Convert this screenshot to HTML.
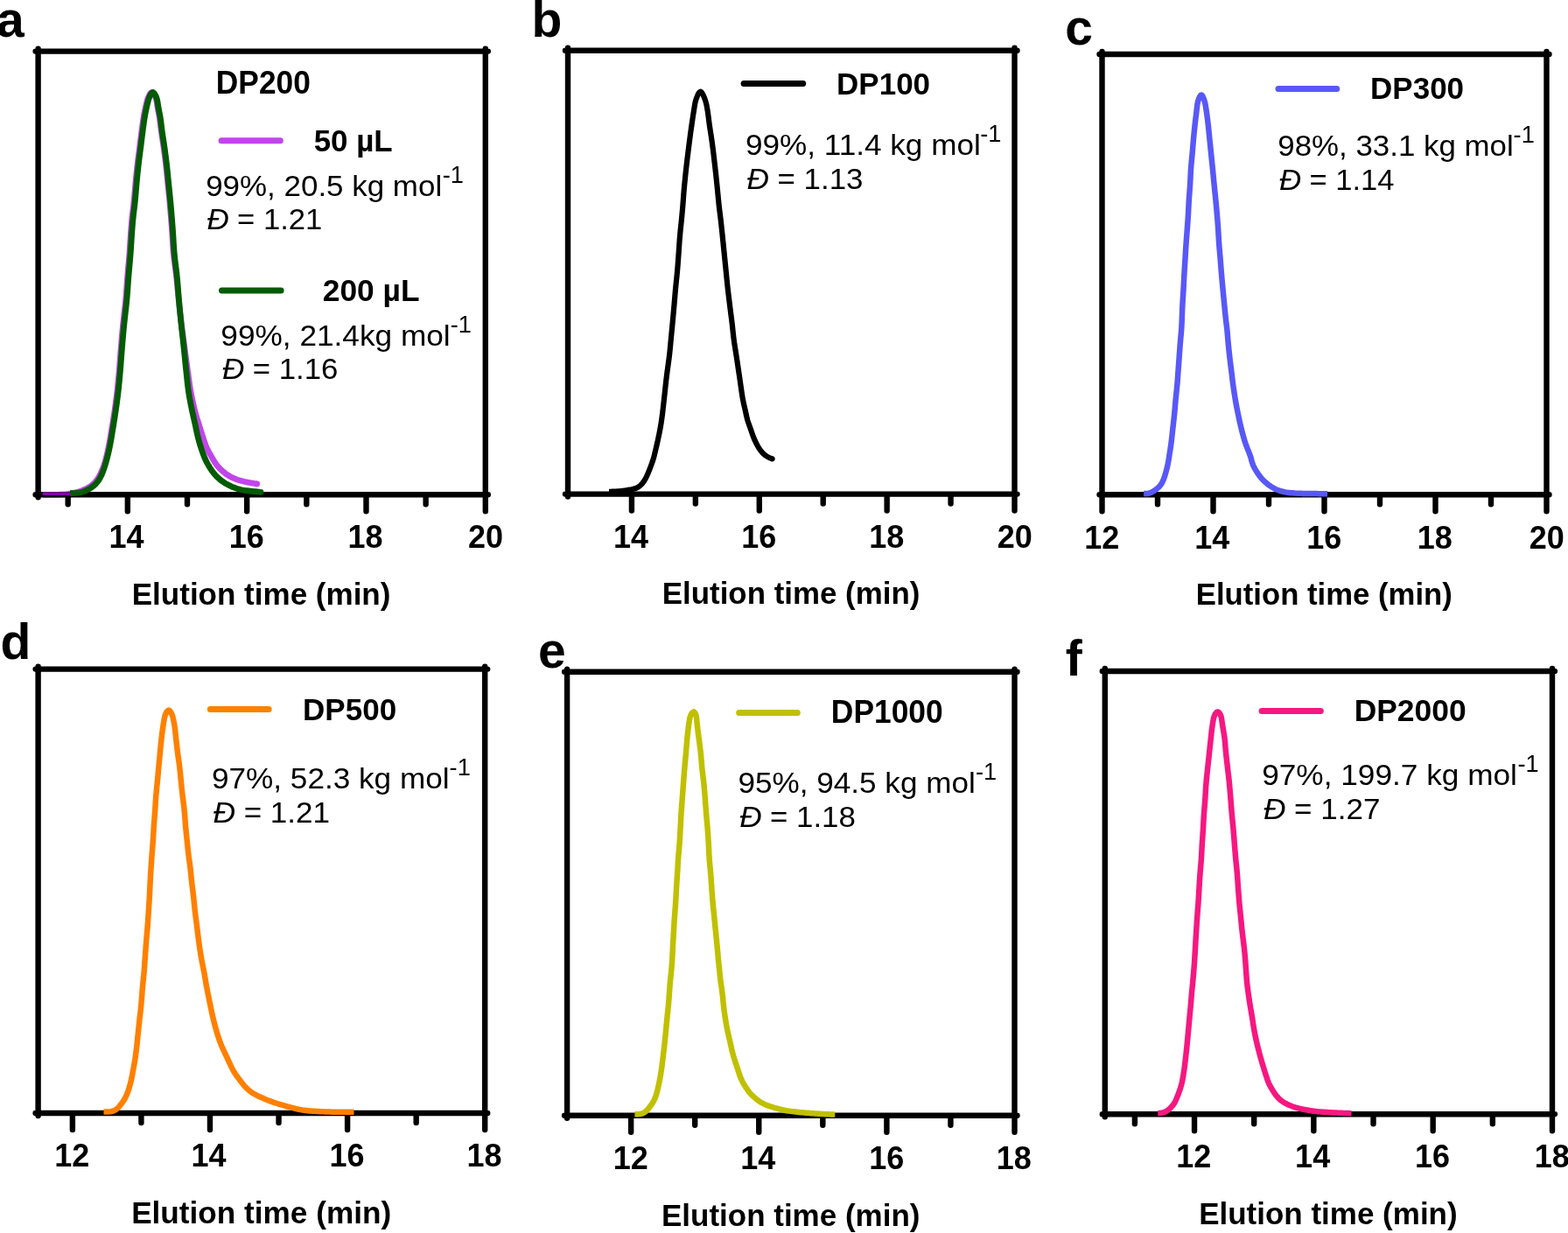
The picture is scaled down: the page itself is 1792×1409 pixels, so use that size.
<!DOCTYPE html>
<html><head><meta charset="utf-8"><title>GPC traces</title>
<style>html,body{margin:0;padding:0;background:#fff;overflow:hidden}svg{display:block}</style>
</head><body>
<svg xmlns="http://www.w3.org/2000/svg" width="1792" height="1409" viewBox="0 0 1792 1409">
<rect width="100%" height="100%" fill="#fff"/>
<g fill="none" stroke-linecap="butt" stroke-linejoin="round">
<path id="curve_M" d="M48.7,565.4 L50.7,565.39 52.7,565.38 54.7,565.37 56.7,565.37 58.71,565.36 60.71,565.35 62.71,565.34 64.71,565.31 66.71,565.28 68.71,565.22 70.71,565.14 72.71,565.03 74.7,564.88 76.69,564.68 78.67,564.41 80.64,564.07 82.6,563.68 84.55,563.24 86.5,562.77 88.43,562.28 90.36,561.74 92.26,561.13 94.13,560.44 95.97,559.66 97.78,558.81 99.56,557.91 101.31,556.95 103.01,555.9 104.63,554.75 106.18,553.5 107.63,552.14 109,550.69 110.27,549.15 111.44,547.54 112.51,545.86 113.49,544.12 114.41,542.35 115.27,540.55 116.09,538.72 116.87,536.88 117.62,535.02 118.32,533.15 118.98,531.27 119.6,529.36 120.17,527.45 120.71,525.52 121.21,523.58 121.69,521.64 122.16,519.7 122.62,517.75 123.06,515.8 123.5,513.84 123.92,511.89 124.32,509.93 124.71,507.96 125.09,506 125.45,504.03 125.79,502.06 126.13,500.09 126.45,498.11 126.77,496.14 127.09,494.16 127.41,492.18 127.73,490.21 128.06,488.24 128.38,486.26 128.71,484.29 129.03,482.31 129.35,480.34 129.67,478.36 129.98,476.38 130.28,474.41 130.58,472.43 130.87,470.45 131.16,468.47 131.44,466.49 131.72,464.5 132,462.52 132.27,460.54 132.53,458.56 132.8,456.57 133.05,454.59 133.3,452.6 133.54,450.61 133.78,448.63 134,446.64 134.22,444.65 134.44,442.66 134.64,440.67 134.84,438.68 135.04,436.69 135.23,434.7 135.42,432.7 135.6,430.71 135.78,428.72 135.96,426.72 136.13,424.73 136.3,422.74 136.47,420.74 136.63,418.75 136.79,416.75 136.94,414.76 137.09,412.76 137.24,410.77 137.39,408.77 137.54,406.78 137.69,404.78 137.84,402.78 138,400.79 138.16,398.79 138.32,396.8 138.49,394.81 138.65,392.81 138.82,390.82 138.99,388.82 139.16,386.83 139.33,384.84 139.5,382.84 139.68,380.85 139.86,378.86 140.04,376.86 140.23,374.87 140.42,372.88 140.62,370.89 140.82,368.9 141.04,366.91 141.25,364.92 141.48,362.93 141.7,360.94 141.93,358.95 142.16,356.96 142.39,354.98 142.61,352.99 142.83,351 143.05,349.01 143.26,347.02 143.47,345.03 143.66,343.04 143.85,341.04 144.02,339.05 144.19,337.06 144.34,335.06 144.49,333.07 144.64,331.07 144.77,329.07 144.91,327.08 145.05,325.08 145.19,323.09 145.33,321.09 145.48,319.09 145.63,317.1 145.79,315.1 145.95,313.11 146.12,311.11 146.3,309.12 146.47,307.13 146.65,305.13 146.83,303.14 147.01,301.15 147.18,299.15 147.36,297.16 147.53,295.17 147.69,293.17 147.85,291.18 148,289.18 148.14,287.19 148.28,285.19 148.41,283.19 148.54,281.2 148.67,279.2 148.8,277.2 148.92,275.21 149.05,273.21 149.18,271.21 149.31,269.21 149.45,267.22 149.59,265.22 149.74,263.23 149.89,261.23 150.04,259.24 150.2,257.24 150.36,255.25 150.54,253.25 150.72,251.26 150.92,249.27 151.13,247.28 151.35,245.29 151.58,243.3 151.81,241.31 152.05,239.33 152.29,237.34 152.53,235.35 152.76,233.37 152.98,231.38 153.19,229.39 153.38,227.39 153.56,225.4 153.74,223.41 153.91,221.41 154.07,219.42 154.23,217.43 154.39,215.43 154.56,213.44 154.73,211.44 154.91,209.45 155.09,207.46 155.28,205.46 155.47,203.47 155.66,201.48 155.86,199.49 156.06,197.5 156.27,195.51 156.48,193.52 156.69,191.53 156.92,189.54 157.15,187.55 157.38,185.56 157.63,183.58 157.88,181.59 158.13,179.61 158.39,177.62 158.65,175.64 158.9,173.65 159.16,171.67 159.41,169.68 159.66,167.7 159.91,165.71 160.16,163.73 160.4,161.74 160.65,159.76 160.9,157.77 161.15,155.78 161.4,153.8 161.65,151.81 161.91,149.83 162.17,147.85 162.43,145.86 162.69,143.88 162.95,141.89 163.23,139.91 163.51,137.93 163.81,135.95 164.13,133.98 164.46,132 164.82,130.04 165.2,128.07 165.61,126.11 166.03,124.15 166.45,122.2 166.89,120.25 167.33,118.3 167.81,116.35 168.34,114.42 168.96,112.53 169.7,110.67 170.56,108.87 171.55,107.13 172.84,105.7 173.71,105.46 174.54,105.89 175.81,107.39 176.83,109.11 177.68,110.91 178.34,112.79 178.82,114.73 179.19,116.69 179.51,118.67 179.81,120.65 180.14,122.62 180.49,124.59 180.87,126.55 181.26,128.52 181.64,130.48 182,132.45 182.32,134.42 182.62,136.4 182.89,138.38 183.14,140.37 183.38,142.36 183.61,144.34 183.85,146.33 184.11,148.31 184.37,150.3 184.65,152.28 184.94,154.26 185.24,156.24 185.55,158.21 185.85,160.19 186.16,162.17 186.46,164.15 186.76,166.13 187.05,168.11 187.33,170.09 187.6,172.07 187.87,174.05 188.14,176.04 188.39,178.02 188.65,180.01 188.89,181.99 189.14,183.98 189.37,185.97 189.6,187.95 189.83,189.94 190.05,191.93 190.26,193.92 190.47,195.91 190.67,197.9 190.86,199.89 191.06,201.89 191.25,203.88 191.44,205.87 191.64,207.86 191.84,209.85 192.04,211.84 192.24,213.83 192.45,215.83 192.65,217.82 192.85,219.81 193.05,221.8 193.25,223.79 193.45,225.78 193.64,227.77 193.83,229.76 194.01,231.76 194.19,233.75 194.37,235.74 194.54,237.74 194.71,239.73 194.88,241.73 195.04,243.72 195.21,245.71 195.37,247.71 195.53,249.7 195.69,251.7 195.85,253.69 196,255.69 196.16,257.68 196.31,259.68 196.46,261.68 196.6,263.67 196.74,265.67 196.87,267.66 196.99,269.66 197.11,271.66 197.23,273.66 197.34,275.65 197.46,277.65 197.58,279.65 197.71,281.65 197.85,283.64 197.99,285.64 198.15,287.63 198.33,289.63 198.52,291.62 198.74,293.61 198.97,295.6 199.21,297.58 199.47,299.57 199.73,301.55 200,303.53 200.27,305.52 200.54,307.5 200.81,309.48 201.07,311.47 201.31,313.45 201.55,315.44 201.78,317.43 201.99,319.42 202.19,321.41 202.39,323.4 202.58,325.39 202.77,327.38 202.95,329.38 203.14,331.37 203.32,333.36 203.51,335.35 203.7,337.35 203.89,339.34 204.09,341.33 204.29,343.32 204.5,345.31 204.7,347.3 204.91,349.29 205.12,351.28 205.33,353.27 205.55,355.26 205.76,357.25 205.99,359.24 206.21,361.23 206.44,363.22 206.67,365.2 206.91,367.19 207.16,369.18 207.41,371.16 207.66,373.15 207.92,375.13 208.18,377.11 208.45,379.1 208.71,381.08 208.98,383.06 209.25,385.05 209.53,387.03 209.8,389.01 210.07,391 210.34,392.98 210.61,394.96 210.88,396.94 211.15,398.93 211.42,400.91 211.68,402.89 211.94,404.88 212.21,406.86 212.47,408.84 212.73,410.83 213,412.81 213.26,414.8 213.53,416.78 213.8,418.76 214.07,420.74 214.34,422.73 214.62,424.71 214.89,426.69 215.16,428.68 215.42,430.66 215.69,432.64 215.96,434.62 216.24,436.61 216.52,438.59 216.81,440.57 217.12,442.54 217.44,444.52 217.77,446.49 218.12,448.46 218.49,450.43 218.87,452.39 219.27,454.36 219.68,456.31 220.09,458.27 220.52,460.23 220.96,462.18 221.41,464.13 221.87,466.08 222.34,468.02 222.83,469.96 223.34,471.9 223.86,473.83 224.42,475.75 225,477.66 225.6,479.57 226.22,481.48 226.82,483.38 227.42,485.29 228.02,487.2 228.6,489.12 229.19,491.03 229.78,492.94 230.37,494.85 230.98,496.76 231.59,498.67 232.2,500.57 232.82,502.47 233.45,504.37 234.09,506.27 234.77,508.15 235.49,510.01 236.27,511.85 237.12,513.66 238.05,515.43 239.02,517.18 240.03,518.9 241.05,520.63 242.04,522.36 243.02,524.1 244.01,525.84 245.04,527.55 246.14,529.22 247.32,530.83 248.57,532.39 249.88,533.89 251.25,535.35 252.66,536.76 254.12,538.13 255.62,539.45 257.17,540.71 258.78,541.9 260.44,543 262.15,544.03 263.9,544.98 265.7,545.87 267.52,546.68 269.37,547.43 271.25,548.11 273.15,548.73 275.07,549.3 277,549.81 278.94,550.29 280.9,550.72 282.86,551.12 284.82,551.5 286.79,551.85 288.76,552.19 290.74,552.51 292.71,552.84 293.7,553" stroke="#C146E9" stroke-width="6.8"/>
</g>
<g fill="none" stroke="#000" stroke-width="6.4" stroke-linecap="round" stroke-linejoin="round">
<path d="M40.6,58.6 L557.8,58.6 M40.6,565.2 L557.8,565.2 M43.6,55.6 L43.6,568.2 M554.8,55.6 L554.8,568.2 M77.68,565.2 L77.68,576.2 M145.84,565.2 L145.84,584.2 M214,565.2 L214,576.2 M282.16,565.2 L282.16,584.2 M350.32,565.2 L350.32,576.2 M418.48,565.2 L418.48,584.2 M486.64,565.2 L486.64,576.2 M554.8,565.2 L554.8,584.2"/>
<path d="M646,57.8 L1162.5,57.8 M646,564.6 L1162.5,564.6 M649,54.8 L649,567.6 M1159.5,54.8 L1159.5,567.6 M721.93,564.6 L721.93,583.6 M794.86,564.6 L794.86,575.6 M867.79,564.6 L867.79,583.6 M940.71,564.6 L940.71,575.6 M1013.64,564.6 L1013.64,583.6 M1086.57,564.6 L1086.57,575.6 M1159.5,564.6 L1159.5,583.6"/>
<path d="M1256.5,62 L1770.5,62 M1256.5,565.3 L1770.5,565.3 M1259.5,59 L1259.5,568.3 M1767.5,59 L1767.5,568.3 M1259.5,565.3 L1259.5,584.3 M1323,565.3 L1323,576.3 M1386.5,565.3 L1386.5,584.3 M1450,565.3 L1450,576.3 M1513.5,565.3 L1513.5,584.3 M1577,565.3 L1577,576.3 M1640.5,565.3 L1640.5,584.3 M1704,565.3 L1704,576.3 M1767.5,565.3 L1767.5,584.3"/>
<path d="M40.6,764.6 L557.2,764.6 M40.6,1272 L557.2,1272 M43.6,761.6 L43.6,1275 M554.2,761.6 L554.2,1275 M82.88,1272 L82.88,1291 M161.43,1272 L161.43,1283 M239.98,1272 L239.98,1291 M318.54,1272 L318.54,1283 M397.09,1272 L397.09,1291 M475.65,1272 L475.65,1283 M554.2,1272 L554.2,1291"/>
<path d="M645.1,767.7 L1162.5,767.7 M645.1,1274.8 L1162.5,1274.8 M648.1,764.7 L648.1,1277.8 M1159.5,764.7 L1159.5,1277.8 M721.16,1274.8 L721.16,1293.8 M794.21,1274.8 L794.21,1285.8 M867.27,1274.8 L867.27,1293.8 M940.33,1274.8 L940.33,1285.8 M1013.39,1274.8 L1013.39,1293.8 M1086.44,1274.8 L1086.44,1285.8 M1159.5,1274.8 L1159.5,1293.8"/>
<path d="M1259.8,767 L1777,767 M1259.8,1273.2 L1777,1273.2 M1262.8,764 L1262.8,1276.2 M1774,764 L1774,1276.2 M1296.88,1273.2 L1296.88,1284.2 M1365.04,1273.2 L1365.04,1292.2 M1433.2,1273.2 L1433.2,1284.2 M1501.36,1273.2 L1501.36,1292.2 M1569.52,1273.2 L1569.52,1284.2 M1637.68,1273.2 L1637.68,1292.2 M1705.84,1273.2 L1705.84,1284.2 M1774,1273.2 L1774,1292.2"/>
</g>
<path d="M48.6,564.1 L80.5,564.1" stroke="#8204A8" stroke-width="3.7" fill="none"/>
<g fill="none" stroke-linecap="butt" stroke-linejoin="round">
<path id="curve_G" d="M80,563.7 L82,563.65 84,563.59 85.99,563.48 87.98,563.32 89.96,563.07 91.92,562.72 93.85,562.24 95.74,561.62 97.59,560.88 99.39,560.03 101.17,559.11 102.9,558.12 104.57,557.04 106.17,555.86 107.69,554.57 109.13,553.19 110.47,551.73 111.73,550.18 112.89,548.56 113.94,546.87 114.9,545.12 115.77,543.33 116.58,541.5 117.32,539.65 118.03,537.77 118.7,535.89 119.34,534 119.96,532.09 120.55,530.18 121.12,528.27 121.66,526.34 122.17,524.41 122.67,522.47 123.15,520.53 123.62,518.59 124.07,516.64 124.51,514.69 124.94,512.73 125.35,510.77 125.74,508.81 126.13,506.85 126.49,504.88 126.85,502.92 127.18,500.94 127.51,498.97 127.83,497 128.15,495.02 128.47,493.05 128.79,491.07 129.11,489.1 129.44,487.13 129.77,485.15 130.09,483.18 130.41,481.2 130.73,479.23 131.04,477.25 131.35,475.28 131.65,473.3 131.94,471.32 132.23,469.34 132.52,467.36 132.8,465.38 133.08,463.4 133.35,461.42 133.62,459.44 133.88,457.45 134.14,455.47 134.39,453.49 134.63,451.5 134.87,449.51 135.1,447.53 135.33,445.54 135.54,443.55 135.75,441.56 135.96,439.57 136.15,437.58 136.35,435.59 136.53,433.6 136.72,431.61 136.9,429.62 137.08,427.62 137.25,425.63 137.43,423.64 137.59,421.65 137.76,419.65 137.92,417.66 138.07,415.66 138.22,413.67 138.37,411.67 138.52,409.68 138.67,407.68 138.82,405.69 138.97,403.7 139.13,401.7 139.29,399.71 139.45,397.71 139.61,395.72 139.78,393.73 139.94,391.73 140.11,389.74 140.28,387.75 140.45,385.75 140.62,383.76 140.8,381.77 140.97,379.78 141.16,377.78 141.34,375.79 141.53,373.8 141.73,371.81 141.93,369.82 142.14,367.83 142.35,365.84 142.57,363.85 142.8,361.87 143.02,359.88 143.25,357.89 143.48,355.91 143.71,353.92 143.93,351.93 144.15,349.94 144.37,347.95 144.57,345.96 144.77,343.97 144.96,341.98 145.14,339.99 145.31,338 145.47,336 145.62,334.01 145.77,332.01 145.91,330.02 146.05,328.02 146.18,326.03 146.32,324.03 146.46,322.04 146.61,320.04 146.76,318.05 146.91,316.05 147.07,314.06 147.24,312.07 147.41,310.07 147.59,308.08 147.77,306.09 147.94,304.1 148.12,302.1 148.3,300.11 148.47,298.12 148.65,296.13 148.81,294.13 148.97,292.14 149.13,290.14 149.27,288.15 149.41,286.15 149.55,284.16 149.68,282.16 149.81,280.17 149.94,278.17 150.06,276.17 150.19,274.18 150.32,272.18 150.45,270.19 150.58,268.19 150.72,266.19 150.86,264.2 151.01,262.2 151.16,260.21 151.32,258.22 151.48,256.22 151.65,254.23 151.83,252.24 152.02,250.25 152.22,248.26 152.44,246.27 152.66,244.28 152.9,242.29 153.13,240.31 153.37,238.32 153.61,236.34 153.85,234.35 154.07,232.36 154.28,230.37 154.49,228.38 154.67,226.39 154.85,224.4 155.02,222.41 155.19,220.41 155.35,218.42 155.51,216.43 155.68,214.43 155.85,212.44 156.02,210.45 156.2,208.45 156.39,206.46 156.57,204.47 156.77,202.48 156.96,200.49 157.16,198.5 157.36,196.51 157.57,194.52 157.78,192.53 158,190.54 158.23,188.56 158.46,186.57 158.7,184.58 158.95,182.6 159.2,180.61 159.46,178.63 159.72,176.65 159.97,174.66 160.23,172.68 160.48,170.7 160.73,168.71 160.98,166.73 161.23,164.74 161.48,162.76 161.72,160.77 161.97,158.79 162.22,156.8 162.47,154.82 162.72,152.83 162.98,150.85 163.24,148.87 163.49,146.88 163.75,144.9 164.02,142.92 164.28,140.93 164.56,138.95 164.85,136.97 165.16,135 165.49,133.02 165.83,131.05 166.2,129.09 166.6,127.13 167.01,125.17 167.43,123.22 167.87,121.26 168.31,119.31 168.77,117.37 169.27,115.43 169.83,113.51 170.5,111.63 171.28,109.79 172.16,108 173.22,106.32 174.77,105.48 176.24,106.67 177.33,108.34 178.24,110.12 178.98,111.97 179.53,113.89 179.94,115.84 180.27,117.81 180.57,119.79 180.89,121.76 181.24,123.73 181.6,125.7 181.99,127.66 182.38,129.62 182.74,131.59 183.09,133.56 183.39,135.53 183.67,137.51 183.93,139.5 184.17,141.48 184.41,143.47 184.65,145.46 184.89,147.44 185.15,149.42 185.43,151.41 185.71,153.38 186.01,155.36 186.31,157.34 186.62,159.32 186.93,161.29 187.23,163.27 187.53,165.25 187.82,167.23 188.11,169.21 188.38,171.19 188.65,173.17 188.92,175.15 189.18,177.14 189.43,179.12 189.68,181.1 189.93,183.09 190.17,185.08 190.4,187.06 190.63,189.05 190.85,191.04 191.07,193.03 191.27,195.01 191.48,197 191.67,199 191.87,200.99 192.06,202.98 192.26,204.97 192.45,206.96 192.65,208.95 192.85,210.94 193.05,212.93 193.25,214.92 193.46,216.91 193.66,218.9 193.86,220.89 194.06,222.88 194.26,224.87 194.45,226.86 194.64,228.85 194.83,230.84 195.01,232.84 195.19,234.83 195.36,236.82 195.53,238.81 195.7,240.81 195.87,242.8 196.03,244.79 196.19,246.79 196.36,248.78 196.52,250.77 196.68,252.77 196.83,254.76 196.99,256.76 197.14,258.75 197.29,260.75 197.43,262.74 197.57,264.74 197.71,266.73 197.84,268.73 197.96,270.72 198.08,272.72 198.2,274.72 198.32,276.71 198.44,278.71 198.56,280.71 198.7,282.7 198.84,284.7 198.99,286.69 199.15,288.69 199.33,290.68 199.52,292.67 199.73,294.66 199.95,296.65 200.19,298.63 200.43,300.62 200.68,302.6 200.93,304.59 201.18,306.57 201.43,308.56 201.67,310.54 201.9,312.53 202.12,314.52 202.32,316.51 202.52,318.5 202.7,320.49 202.87,322.48 203.04,324.48 203.2,326.47 203.35,328.46 203.51,330.46 203.66,332.45 203.81,334.45 203.97,336.44 204.13,338.44 204.3,340.43 204.47,342.42 204.64,344.41 204.82,346.41 205,348.4 205.18,350.39 205.37,352.38 205.55,354.37 205.74,356.37 205.93,358.36 206.12,360.35 206.32,362.34 206.51,364.33 206.71,366.32 206.92,368.31 207.12,370.3 207.33,372.29 207.54,374.28 207.76,376.27 207.97,378.25 208.19,380.24 208.41,382.23 208.63,384.22 208.85,386.21 209.07,388.2 209.29,390.18 209.51,392.17 209.73,394.16 209.94,396.15 210.15,398.14 210.36,400.13 210.57,402.12 210.77,404.11 210.98,406.1 211.18,408.09 211.38,410.08 211.57,412.07 211.77,414.06 211.97,416.05 212.18,418.04 212.38,420.03 212.59,422.02 212.8,424.01 213.01,426 213.21,427.99 213.42,429.97 213.62,431.96 213.83,433.95 214.04,435.94 214.26,437.93 214.48,439.92 214.72,441.91 214.97,443.89 215.24,445.87 215.53,447.85 215.83,449.83 216.15,451.8 216.49,453.77 216.84,455.74 217.2,457.71 217.58,459.67 217.96,461.64 218.35,463.6 218.75,465.56 219.15,467.52 219.56,469.48 219.98,471.43 220.4,473.39 220.83,475.34 221.28,477.29 221.74,479.24 222.19,481.19 222.64,483.14 223.07,485.09 223.48,487.04 223.89,489 224.29,490.96 224.69,492.92 225.11,494.88 225.56,496.83 226.02,498.77 226.51,500.71 227.02,502.64 227.56,504.57 228.11,506.49 228.68,508.41 229.28,510.32 229.89,512.22 230.53,514.12 231.17,516.01 231.84,517.9 232.54,519.77 233.26,521.64 234.03,523.48 234.85,525.3 235.72,527.1 236.64,528.88 237.6,530.63 238.6,532.36 239.64,534.07 240.72,535.75 241.84,537.41 243,539.04 244.21,540.62 245.48,542.17 246.81,543.65 248.2,545.08 249.66,546.44 251.18,547.73 252.75,548.97 254.37,550.15 256.02,551.27 257.71,552.34 259.43,553.35 261.19,554.3 262.97,555.19 264.79,556.02 266.64,556.79 268.5,557.49 270.39,558.15 272.3,558.74 274.23,559.27 276.17,559.74 278.13,560.13 280.1,560.45 282.08,560.71 284.07,560.94 286.05,561.15 288.04,561.35 290.03,561.55 292.03,561.74 294.02,561.93 296.01,562.11 298,562.3" stroke="#035B03" stroke-width="6.8"/>
<path id="curve_K" d="M696,561.8 L698,561.75 700,561.7 702,561.64 704,561.55 706,561.42 707.99,561.26 709.98,561.05 711.97,560.8 713.95,560.52 715.93,560.21 717.9,559.89 719.88,559.56 721.85,559.21 723.8,558.8 725.71,558.28 727.56,557.58 729.29,556.67 730.91,555.55 732.39,554.24 733.75,552.79 735,551.25 736.14,549.61 737.18,547.91 738.14,546.16 739.02,544.37 739.86,542.55 740.65,540.71 741.41,538.86 742.16,537 742.89,535.14 743.6,533.27 744.3,531.4 744.98,529.51 745.63,527.62 746.25,525.72 746.83,523.8 747.38,521.88 747.88,519.94 748.36,518 748.82,516.05 749.28,514.1 749.74,512.15 750.2,510.2 750.65,508.26 751.1,506.31 751.55,504.35 751.97,502.4 752.39,500.44 752.8,498.48 753.2,496.52 753.59,494.56 753.97,492.59 754.34,490.62 754.7,488.65 755.05,486.68 755.38,484.71 755.7,482.73 756,480.75 756.28,478.77 756.55,476.79 756.81,474.8 757.06,472.82 757.3,470.83 757.53,468.84 757.76,466.85 757.98,464.86 758.2,462.87 758.43,460.88 758.65,458.9 758.88,456.91 759.1,454.92 759.32,452.93 759.54,450.94 759.75,448.95 759.96,446.96 760.17,444.97 760.38,442.97 760.59,440.98 760.81,438.99 761.03,437 761.25,435.01 761.48,433.03 761.72,431.04 761.97,429.05 762.22,427.07 762.48,425.08 762.75,423.1 763.03,421.12 763.3,419.13 763.58,417.15 763.85,415.17 764.12,413.18 764.39,411.2 764.65,409.21 764.89,407.23 765.12,405.24 765.35,403.25 765.55,401.26 765.75,399.27 765.94,397.27 766.12,395.28 766.31,393.29 766.49,391.29 766.68,389.3 766.87,387.31 767.06,385.32 767.25,383.32 767.44,381.33 767.63,379.34 767.83,377.34 768.02,375.35 768.21,373.36 768.4,371.37 768.58,369.37 768.77,367.38 768.95,365.39 769.13,363.39 769.32,361.4 769.5,359.41 769.68,357.41 769.86,355.42 770.03,353.42 770.21,351.43 770.39,349.44 770.56,347.44 770.73,345.45 770.9,343.45 771.06,341.46 771.23,339.46 771.4,337.47 771.57,335.47 771.74,333.48 771.92,331.49 772.1,329.49 772.29,327.5 772.49,325.51 772.69,323.52 772.9,321.52 773.11,319.53 773.32,317.54 773.52,315.55 773.72,313.56 773.91,311.57 774.09,309.57 774.26,307.58 774.43,305.58 774.59,303.59 774.74,301.59 774.89,299.6 775.03,297.6 775.18,295.6 775.32,293.61 775.46,291.61 775.6,289.61 775.74,287.62 775.88,285.62 776.02,283.62 776.15,281.62 776.28,279.63 776.42,277.63 776.56,275.63 776.71,273.64 776.87,271.64 777.04,269.65 777.21,267.65 777.4,265.66 777.6,263.67 777.8,261.68 778.01,259.68 778.22,257.69 778.42,255.7 778.62,253.71 778.82,251.72 779.02,249.73 779.21,247.73 779.4,245.74 779.58,243.75 779.76,241.75 779.94,239.76 780.12,237.77 780.29,235.77 780.45,233.78 780.6,231.78 780.75,229.78 780.9,227.79 781.05,225.79 781.19,223.79 781.34,221.8 781.5,219.8 781.67,217.81 781.84,215.81 782.02,213.82 782.2,211.83 782.39,209.83 782.58,207.84 782.78,205.85 782.98,203.86 783.18,201.87 783.39,199.87 783.6,197.88 783.82,195.89 784.04,193.9 784.26,191.91 784.48,189.93 784.71,187.94 784.95,185.95 785.18,183.96 785.41,181.97 785.65,179.98 785.89,178 786.13,176.01 786.37,174.02 786.62,172.04 786.86,170.05 787.11,168.06 787.37,166.08 787.62,164.09 787.88,162.11 788.13,160.12 788.4,158.14 788.66,156.15 788.92,154.17 789.19,152.18 789.46,150.2 789.74,148.22 790.01,146.23 790.3,144.25 790.58,142.27 790.86,140.29 791.15,138.31 791.44,136.33 791.73,134.35 792.03,132.37 792.33,130.39 792.65,128.41 792.96,126.43 793.27,124.46 793.59,122.48 793.91,120.51 794.25,118.54 794.66,116.58 795.18,114.65 795.8,112.75 796.5,110.87 797.25,109.02 798.1,107.21 799.14,105.52 800.66,104.57 802.09,105.77 803.1,107.48 803.96,109.29 804.73,111.13 805.46,113 806.13,114.88 806.7,116.8 807.18,118.74 807.59,120.7 807.97,122.66 808.32,124.63 808.64,126.61 808.95,128.58 809.23,130.57 809.5,132.55 809.75,134.54 810,136.52 810.25,138.51 810.51,140.49 810.77,142.48 811.05,144.46 811.35,146.44 811.65,148.42 811.95,150.4 812.26,152.37 812.57,154.35 812.87,156.33 813.17,158.31 813.46,160.29 813.74,162.27 814.01,164.26 814.27,166.24 814.53,168.23 814.77,170.21 815.02,172.2 815.26,174.19 815.5,176.18 815.73,178.16 815.97,180.15 816.2,182.14 816.44,184.13 816.67,186.12 816.9,188.1 817.13,190.09 817.35,192.08 817.58,194.07 817.8,196.06 818.02,198.05 818.23,200.04 818.44,202.03 818.65,204.02 818.86,206.01 819.06,208.01 819.26,210 819.47,211.99 819.67,213.98 819.87,215.97 820.06,217.96 820.26,219.96 820.45,221.95 820.64,223.94 820.83,225.93 821.02,227.93 821.21,229.92 821.41,231.91 821.62,233.9 821.83,235.89 822.06,237.88 822.3,239.87 822.54,241.86 822.79,243.84 823.04,245.83 823.29,247.82 823.53,249.8 823.77,251.79 823.99,253.78 824.22,255.77 824.43,257.76 824.64,259.75 824.85,261.74 825.06,263.73 825.27,265.72 825.47,267.71 825.68,269.7 825.88,271.7 826.09,273.69 826.29,275.68 826.49,277.67 826.69,279.66 826.89,281.65 827.09,283.65 827.29,285.64 827.49,287.63 827.69,289.62 827.89,291.61 828.09,293.61 828.29,295.6 828.49,297.59 828.69,299.58 828.89,301.57 829.09,303.56 829.29,305.56 829.49,307.55 829.69,309.54 829.89,311.53 830.09,313.52 830.28,315.52 830.48,317.51 830.68,319.5 830.88,321.49 831.08,323.48 831.28,325.48 831.5,327.47 831.71,329.46 831.94,331.45 832.17,333.43 832.4,335.42 832.64,337.41 832.88,339.4 833.12,341.38 833.37,343.37 833.61,345.36 833.86,347.34 834.11,349.33 834.35,351.32 834.6,353.3 834.86,355.29 835.11,357.27 835.36,359.26 835.61,361.25 835.86,363.23 836.11,365.22 836.35,367.21 836.59,369.19 836.82,371.18 837.04,373.17 837.25,375.16 837.46,377.15 837.67,379.14 837.89,381.13 838.1,383.12 838.33,385.11 838.58,387.1 838.83,389.08 839.11,391.07 839.4,393.05 839.7,395.03 840.02,397 840.34,398.98 840.66,400.96 840.97,402.93 841.29,404.91 841.59,406.89 841.89,408.87 842.19,410.85 842.49,412.83 842.78,414.81 843.08,416.79 843.37,418.77 843.67,420.75 843.96,422.73 844.25,424.71 844.55,426.69 844.84,428.67 845.13,430.65 845.42,432.63 845.7,434.61 845.98,436.59 846.26,438.57 846.54,440.56 846.82,442.54 847.1,444.52 847.38,446.5 847.67,448.48 847.97,450.46 848.29,452.44 848.62,454.41 848.97,456.38 849.35,458.35 849.76,460.31 850.19,462.26 850.64,464.21 851.1,466.16 851.55,468.11 851.99,470.07 852.41,472.02 852.83,473.98 853.26,475.93 853.72,477.88 854.24,479.81 854.82,481.72 855.46,483.62 856.13,485.5 856.82,487.38 857.5,489.27 858.16,491.15 858.8,493.05 859.44,494.95 860.09,496.84 860.78,498.72 861.52,500.58 862.3,502.41 863.14,504.23 864.02,506.03 864.94,507.81 865.89,509.57 866.89,511.3 867.96,512.98 869.1,514.62 870.34,516.18 871.67,517.66 873.1,519.04 874.64,520.3 876.26,521.44 877.98,522.44 879.77,523.3 881.65,523.98 882.6,524.3" stroke="#000000" stroke-width="6.2"/>
<path id="curve_B" d="M1307.1,564.1 L1309.1,564.12 1311.09,564.03 1313.03,563.69 1314.89,563.11 1316.65,562.28 1318.33,561.26 1319.97,560.13 1321.58,558.96 1323.14,557.73 1324.59,556.39 1325.89,554.91 1327.05,553.3 1328.07,551.6 1328.96,549.82 1329.75,547.99 1330.44,546.12 1331.07,544.22 1331.66,542.31 1332.22,540.39 1332.76,538.46 1333.27,536.52 1333.76,534.58 1334.22,532.64 1334.64,530.68 1335.03,528.72 1335.38,526.75 1335.71,524.77 1336.02,522.8 1336.32,520.82 1336.62,518.84 1336.93,516.86 1337.24,514.88 1337.54,512.91 1337.84,510.93 1338.13,508.95 1338.4,506.96 1338.66,504.98 1338.9,502.99 1339.13,501 1339.35,499.01 1339.56,497.02 1339.77,495.03 1339.99,493.04 1340.2,491.05 1340.42,489.06 1340.65,487.08 1340.87,485.09 1341.1,483.1 1341.32,481.11 1341.55,479.12 1341.76,477.13 1341.97,475.14 1342.17,473.15 1342.36,471.16 1342.54,469.16 1342.71,467.17 1342.88,465.17 1343.04,463.18 1343.21,461.19 1343.38,459.19 1343.56,457.2 1343.75,455.21 1343.95,453.21 1344.16,451.22 1344.38,449.23 1344.59,447.24 1344.8,445.25 1345,443.26 1345.19,441.27 1345.37,439.28 1345.54,437.28 1345.7,435.29 1345.84,433.29 1345.99,431.3 1346.13,429.3 1346.27,427.3 1346.41,425.31 1346.55,423.31 1346.7,421.31 1346.85,419.32 1346.99,417.32 1347.14,415.32 1347.29,413.33 1347.43,411.33 1347.58,409.34 1347.72,407.34 1347.87,405.34 1348.01,403.35 1348.16,401.35 1348.3,399.36 1348.44,397.36 1348.59,395.36 1348.75,393.37 1348.91,391.37 1349.07,389.38 1349.25,387.38 1349.43,385.39 1349.61,383.4 1349.79,381.4 1349.96,379.41 1350.11,377.41 1350.25,375.42 1350.38,373.42 1350.49,371.42 1350.58,369.42 1350.67,367.42 1350.75,365.42 1350.82,363.42 1350.9,361.42 1350.97,359.42 1351.04,357.42 1351.12,355.42 1351.19,353.42 1351.28,351.42 1351.38,349.42 1351.48,347.43 1351.59,345.43 1351.71,343.43 1351.84,341.43 1351.97,339.43 1352.1,337.44 1352.22,335.44 1352.35,333.44 1352.47,331.44 1352.58,329.45 1352.68,327.45 1352.79,325.45 1352.88,323.45 1352.98,321.45 1353.08,319.45 1353.18,317.45 1353.28,315.45 1353.39,313.46 1353.51,311.46 1353.62,309.46 1353.74,307.46 1353.87,305.46 1353.99,303.47 1354.12,301.47 1354.25,299.47 1354.37,297.47 1354.5,295.48 1354.62,293.48 1354.74,291.48 1354.86,289.48 1354.98,287.48 1355.1,285.49 1355.23,283.49 1355.35,281.49 1355.49,279.49 1355.62,277.5 1355.76,275.5 1355.91,273.51 1356.06,271.51 1356.22,269.51 1356.37,267.52 1356.53,265.52 1356.68,263.53 1356.83,261.53 1356.98,259.54 1357.13,257.54 1357.28,255.54 1357.42,253.55 1357.56,251.55 1357.7,249.55 1357.82,247.56 1357.94,245.56 1358.05,243.56 1358.16,241.56 1358.25,239.56 1358.35,237.56 1358.44,235.56 1358.54,233.57 1358.65,231.57 1358.76,229.57 1358.89,227.57 1359.02,225.57 1359.17,223.58 1359.32,221.58 1359.47,219.59 1359.62,217.59 1359.77,215.59 1359.91,213.6 1360.05,211.6 1360.17,209.6 1360.27,207.61 1360.37,205.61 1360.47,203.61 1360.56,201.61 1360.65,199.61 1360.75,197.61 1360.86,195.61 1360.99,193.61 1361.14,191.62 1361.29,189.62 1361.47,187.63 1361.65,185.64 1361.83,183.64 1362.02,181.65 1362.21,179.66 1362.4,177.66 1362.58,175.67 1362.75,173.68 1362.92,171.68 1363.09,169.69 1363.25,167.69 1363.41,165.7 1363.58,163.7 1363.75,161.71 1363.92,159.72 1364.1,157.72 1364.29,155.73 1364.48,153.74 1364.68,151.75 1364.88,149.75 1365.08,147.76 1365.29,145.77 1365.5,143.78 1365.72,141.79 1365.94,139.8 1366.17,137.82 1366.41,135.83 1366.66,133.84 1366.9,131.86 1367.15,129.87 1367.38,127.88 1367.6,125.89 1367.82,123.9 1368.03,121.91 1368.29,119.93 1368.62,117.96 1369.06,116.01 1369.65,114.1 1370.36,112.23 1371.19,110.42 1372.31,108.83 1373.1,108.49 1373.82,108.99 1374.83,110.68 1375.6,112.53 1376.27,114.41 1376.85,116.32 1377.33,118.26 1377.71,120.23 1378.04,122.2 1378.34,124.18 1378.63,126.16 1378.91,128.14 1379.19,130.12 1379.47,132.1 1379.74,134.09 1380,136.07 1380.24,138.06 1380.48,140.05 1380.71,142.03 1380.93,144.02 1381.14,146.01 1381.34,148.01 1381.54,150 1381.74,151.99 1381.93,153.98 1382.13,155.97 1382.33,157.96 1382.53,159.96 1382.73,161.95 1382.93,163.94 1383.13,165.93 1383.33,167.92 1383.53,169.91 1383.74,171.9 1383.94,173.89 1384.14,175.89 1384.34,177.88 1384.55,179.87 1384.75,181.86 1384.95,183.85 1385.16,185.84 1385.36,187.83 1385.56,189.82 1385.76,191.82 1385.96,193.81 1386.15,195.8 1386.34,197.79 1386.53,199.78 1386.72,201.78 1386.91,203.77 1387.1,205.76 1387.29,207.75 1387.48,209.75 1387.68,211.74 1387.88,213.73 1388.08,215.72 1388.28,217.71 1388.49,219.7 1388.7,221.69 1388.9,223.68 1389.1,225.68 1389.3,227.67 1389.49,229.66 1389.68,231.65 1389.86,233.65 1390.05,235.64 1390.23,237.63 1390.4,239.63 1390.58,241.62 1390.75,243.61 1390.92,245.61 1391.09,247.6 1391.25,249.6 1391.42,251.59 1391.58,253.59 1391.73,255.58 1391.88,257.58 1392.02,259.57 1392.16,261.57 1392.29,263.57 1392.41,265.57 1392.52,267.56 1392.63,269.56 1392.74,271.56 1392.85,273.56 1392.97,275.56 1393.1,277.55 1393.25,279.55 1393.4,281.55 1393.57,283.54 1393.74,285.54 1393.91,287.53 1394.08,289.52 1394.26,291.52 1394.43,293.51 1394.59,295.51 1394.76,297.5 1394.92,299.5 1395.07,301.49 1395.23,303.49 1395.38,305.48 1395.54,307.48 1395.7,309.47 1395.86,311.47 1396.03,313.46 1396.2,315.46 1396.37,317.45 1396.55,319.44 1396.72,321.44 1396.9,323.43 1397.09,325.42 1397.27,327.42 1397.45,329.41 1397.64,331.4 1397.83,333.4 1398.01,335.39 1398.2,337.38 1398.39,339.37 1398.59,341.37 1398.78,343.36 1398.97,345.35 1399.17,347.34 1399.36,349.33 1399.56,351.33 1399.75,353.32 1399.95,355.31 1400.15,357.3 1400.35,359.29 1400.55,361.28 1400.76,363.27 1400.98,365.26 1401.2,367.25 1401.44,369.24 1401.68,371.23 1401.93,373.21 1402.16,375.2 1402.39,377.19 1402.59,379.18 1402.77,381.17 1402.94,383.17 1403.1,385.16 1403.26,387.16 1403.42,389.15 1403.6,391.15 1403.78,393.14 1403.97,395.13 1404.17,397.12 1404.38,399.11 1404.58,401.1 1404.8,403.09 1405.01,405.08 1405.24,407.07 1405.46,409.06 1405.7,411.05 1405.94,413.04 1406.18,415.02 1406.43,417.01 1406.68,419 1406.92,420.98 1407.17,422.97 1407.41,424.95 1407.65,426.94 1407.89,428.93 1408.13,430.92 1408.36,432.9 1408.61,434.89 1408.86,436.88 1409.12,438.86 1409.39,440.84 1409.66,442.83 1409.95,444.81 1410.24,446.79 1410.54,448.77 1410.85,450.74 1411.16,452.72 1411.49,454.69 1411.82,456.67 1412.16,458.64 1412.51,460.61 1412.87,462.58 1413.24,464.55 1413.61,466.51 1414,468.48 1414.39,470.44 1414.78,472.4 1415.19,474.36 1415.6,476.32 1416.01,478.28 1416.44,480.24 1416.87,482.19 1417.31,484.14 1417.77,486.09 1418.23,488.04 1418.71,489.98 1419.19,491.92 1419.69,493.86 1420.2,495.8 1420.72,497.73 1421.25,499.66 1421.81,501.58 1422.38,503.5 1422.99,505.41 1423.63,507.3 1424.3,509.18 1425.01,511.05 1425.75,512.91 1426.5,514.77 1427.25,516.62 1427.98,518.49 1428.67,520.36 1429.3,522.26 1429.85,524.18 1430.36,526.11 1430.88,528.04 1431.49,529.93 1432.22,531.78 1433.06,533.59 1434,535.35 1435,537.08 1436.04,538.79 1437.13,540.46 1438.26,542.11 1439.44,543.73 1440.65,545.32 1441.93,546.85 1443.28,548.32 1444.7,549.73 1446.17,551.08 1447.7,552.37 1449.27,553.61 1450.87,554.79 1452.52,555.92 1454.21,556.99 1455.95,557.98 1457.73,558.88 1459.55,559.69 1461.41,560.4 1463.31,561.01 1465.24,561.53 1467.19,561.97 1469.15,562.35 1471.13,562.67 1473.11,562.94 1475.1,563.17 1477.09,563.35 1479.08,563.5 1481.08,563.62 1483.08,563.72 1485.08,563.8 1487.08,563.86 1489.08,563.91 1491.08,563.95 1493.08,563.99 1495.08,564.02 1497.09,564.04 1499.09,564.07 1501.09,564.09 1503.09,564.1 1505.09,564.12 1507.09,564.13 1509.09,564.14 1511.1,564.16 1513.1,564.17 1515.1,564.18 1517.1,564.2" stroke="#5858F8" stroke-width="6.5"/>
<path id="curve_O" d="M118.5,1270.6 L120.5,1270.6 122.5,1270.57 124.49,1270.44 126.46,1270.2 128.4,1269.8 130.25,1269.2 131.99,1268.33 133.57,1267.2 134.99,1265.85 136.3,1264.36 137.55,1262.81 138.78,1261.24 139.98,1259.64 141.11,1258 142.17,1256.3 143.14,1254.56 144.02,1252.77 144.83,1250.95 145.58,1249.09 146.26,1247.22 146.91,1245.32 147.51,1243.42 148.08,1241.5 148.63,1239.58 149.14,1237.65 149.62,1235.71 150.07,1233.76 150.49,1231.8 150.87,1229.84 151.24,1227.87 151.6,1225.91 151.96,1223.94 152.32,1221.97 152.69,1220 153.05,1218.04 153.4,1216.07 153.75,1214.1 154.09,1212.13 154.41,1210.15 154.71,1208.18 154.99,1206.2 155.25,1204.21 155.5,1202.23 155.73,1200.24 155.96,1198.26 156.18,1196.27 156.4,1194.28 156.62,1192.29 156.83,1190.3 157.04,1188.31 157.24,1186.32 157.45,1184.33 157.65,1182.34 157.86,1180.35 158.06,1178.36 158.26,1176.37 158.47,1174.39 158.67,1172.4 158.88,1170.41 159.1,1168.42 159.32,1166.43 159.55,1164.44 159.79,1162.46 160.03,1160.47 160.27,1158.49 160.5,1156.5 160.72,1154.51 160.93,1152.52 161.12,1150.53 161.31,1148.54 161.49,1146.55 161.66,1144.56 161.83,1142.56 161.99,1140.57 162.14,1138.57 162.29,1136.58 162.43,1134.58 162.57,1132.59 162.72,1130.59 162.88,1128.6 163.06,1126.61 163.25,1124.62 163.45,1122.63 163.66,1120.64 163.87,1118.65 164.08,1116.66 164.27,1114.67 164.45,1112.68 164.62,1110.69 164.78,1108.69 164.92,1106.7 165.07,1104.7 165.21,1102.71 165.35,1100.71 165.49,1098.72 165.64,1096.72 165.78,1094.73 165.92,1092.73 166.06,1090.74 166.2,1088.74 166.34,1086.75 166.49,1084.75 166.63,1082.76 166.78,1080.76 166.93,1078.77 167.08,1076.77 167.24,1074.78 167.41,1072.79 167.58,1070.79 167.76,1068.8 167.94,1066.81 168.12,1064.82 168.3,1062.82 168.47,1060.83 168.63,1058.84 168.78,1056.84 168.93,1054.85 169.06,1052.85 169.19,1050.86 169.32,1048.86 169.44,1046.86 169.57,1044.87 169.69,1042.87 169.82,1040.88 169.95,1038.88 170.08,1036.88 170.21,1034.89 170.35,1032.89 170.48,1030.9 170.61,1028.9 170.73,1026.9 170.85,1024.91 170.96,1022.91 171.06,1020.91 171.15,1018.91 171.24,1016.92 171.33,1014.92 171.42,1012.92 171.51,1010.92 171.61,1008.92 171.71,1006.93 171.82,1004.93 171.92,1002.93 172.04,1000.94 172.15,998.94 172.27,996.94 172.39,994.95 172.52,992.95 172.64,990.95 172.77,988.96 172.91,986.96 173.04,984.97 173.18,982.97 173.33,980.98 173.47,978.98 173.62,976.99 173.77,974.99 173.92,973 174.08,971 174.24,969.01 174.39,967.02 174.55,965.02 174.69,963.03 174.83,961.03 174.97,959.04 175.09,957.04 175.21,955.04 175.32,953.05 175.43,951.05 175.55,949.05 175.66,947.05 175.78,945.06 175.91,943.06 176.05,941.07 176.2,939.07 176.35,937.08 176.51,935.08 176.66,933.09 176.82,931.1 176.97,929.1 177.12,927.11 177.26,925.11 177.39,923.12 177.51,921.12 177.64,919.12 177.76,917.13 177.88,915.13 178.02,913.13 178.16,911.14 178.31,909.15 178.48,907.15 178.67,905.16 178.86,903.17 179.06,901.18 179.27,899.19 179.47,897.2 179.68,895.21 179.87,893.22 180.06,891.23 180.25,889.24 180.43,887.25 180.6,885.25 180.78,883.26 180.95,881.27 181.12,879.28 181.3,877.28 181.48,875.29 181.66,873.3 181.85,871.31 182.03,869.32 182.22,867.33 182.42,865.33 182.61,863.34 182.8,861.35 182.99,859.36 183.18,857.37 183.37,855.38 183.57,853.39 183.77,851.4 183.97,849.41 184.18,847.42 184.4,845.43 184.63,843.44 184.85,841.46 185.09,839.47 185.33,837.49 185.58,835.5 185.85,833.52 186.13,831.54 186.43,829.56 186.73,827.58 187.05,825.61 187.37,823.64 187.71,821.67 188.11,819.71 188.6,817.77 189.25,815.89 190.1,814.08 191.18,812.41 192.72,811.45 194.25,812.53 195.37,814.17 196.28,815.94 197,817.8 197.56,819.72 198.02,821.66 198.42,823.62 198.79,825.59 199.13,827.56 199.45,829.53 199.75,831.51 200.01,833.49 200.25,835.48 200.47,837.47 200.68,839.46 200.88,841.44 201.09,843.43 201.31,845.42 201.53,847.41 201.76,849.4 201.99,851.38 202.22,853.37 202.45,855.36 202.68,857.34 202.92,859.33 203.18,861.31 203.44,863.3 203.71,865.28 204,867.26 204.29,869.24 204.57,871.22 204.84,873.2 205.1,875.18 205.33,877.17 205.55,879.16 205.75,881.15 205.95,883.14 206.14,885.13 206.33,887.12 206.52,889.11 206.71,891.1 206.91,893.09 207.12,895.08 207.32,897.07 207.52,899.06 207.73,901.05 207.94,903.04 208.15,905.03 208.37,907.01 208.6,909 208.84,910.99 209.08,912.97 209.34,914.96 209.59,916.94 209.85,918.92 210.09,920.91 210.33,922.9 210.55,924.88 210.75,926.87 210.93,928.86 211.1,930.86 211.25,932.85 211.39,934.85 211.53,936.84 211.68,938.84 211.83,940.83 211.99,942.83 212.16,944.82 212.35,946.81 212.54,948.8 212.74,950.79 212.94,952.78 213.14,954.77 213.34,956.76 213.55,958.75 213.75,960.74 213.96,962.73 214.16,964.72 214.36,966.71 214.57,968.7 214.78,970.69 214.99,972.68 215.22,974.66 215.45,976.65 215.7,978.64 215.96,980.62 216.23,982.6 216.5,984.58 216.78,986.56 217.04,988.54 217.3,990.53 217.54,992.51 217.76,994.5 217.96,996.49 218.16,998.48 218.35,1000.47 218.55,1002.46 218.74,1004.45 218.96,1006.44 219.18,1008.43 219.41,1010.42 219.66,1012.4 219.9,1014.39 220.15,1016.37 220.4,1018.36 220.65,1020.34 220.88,1022.33 221.11,1024.31 221.32,1026.3 221.53,1028.29 221.72,1030.28 221.91,1032.27 222.1,1034.27 222.3,1036.26 222.5,1038.25 222.72,1040.23 222.95,1042.22 223.18,1044.21 223.43,1046.19 223.69,1048.17 223.95,1050.16 224.22,1052.14 224.48,1054.12 224.74,1056.11 224.99,1058.09 225.24,1060.08 225.48,1062.06 225.72,1064.05 225.96,1066.03 226.2,1068.02 226.44,1070 226.69,1071.99 226.95,1073.97 227.21,1075.95 227.47,1077.94 227.75,1079.92 228.02,1081.9 228.31,1083.88 228.6,1085.86 228.9,1087.83 229.22,1089.81 229.55,1091.78 229.89,1093.75 230.24,1095.72 230.61,1097.69 230.99,1099.65 231.38,1101.61 231.76,1103.58 232.15,1105.54 232.54,1107.5 232.93,1109.46 233.3,1111.43 233.66,1113.4 234.02,1115.36 234.36,1117.33 234.69,1119.31 235.02,1121.28 235.35,1123.25 235.7,1125.22 236.05,1127.19 236.42,1129.16 236.8,1131.12 237.19,1133.08 237.59,1135.04 237.99,1137 238.38,1138.96 238.78,1140.92 239.17,1142.88 239.56,1144.85 239.95,1146.81 240.35,1148.77 240.75,1150.73 241.15,1152.69 241.57,1154.64 241.99,1156.6 242.43,1158.55 242.87,1160.5 243.32,1162.45 243.78,1164.4 244.25,1166.34 244.73,1168.28 245.23,1170.22 245.73,1172.15 246.25,1174.09 246.78,1176.01 247.33,1177.94 247.9,1179.85 248.49,1181.77 249.09,1183.67 249.72,1185.57 250.36,1187.47 251.02,1189.35 251.71,1191.23 252.43,1193.1 253.18,1194.95 253.97,1196.79 254.79,1198.61 255.64,1200.42 256.5,1202.23 257.36,1204.03 258.22,1205.84 259.06,1207.65 259.9,1209.47 260.73,1211.29 261.56,1213.1 262.4,1214.92 263.25,1216.73 264.11,1218.54 265,1220.33 265.92,1222.1 266.89,1223.85 267.91,1225.57 268.99,1227.25 270.11,1228.9 271.28,1230.52 272.48,1232.12 273.68,1233.72 274.88,1235.32 276.08,1236.92 277.31,1238.5 278.58,1240.04 279.91,1241.53 281.3,1242.96 282.74,1244.34 284.23,1245.67 285.78,1246.92 287.39,1248.1 289.05,1249.21 290.77,1250.23 292.52,1251.19 294.3,1252.09 296.11,1252.95 297.93,1253.78 299.75,1254.59 301.59,1255.39 303.43,1256.17 305.28,1256.94 307.13,1257.68 309,1258.4 310.88,1259.09 312.76,1259.75 314.66,1260.39 316.56,1260.99 318.48,1261.57 320.4,1262.13 322.32,1262.68 324.25,1263.23 326.17,1263.78 328.09,1264.32 330.02,1264.87 331.94,1265.4 333.87,1265.93 335.81,1266.43 337.75,1266.92 339.7,1267.37 341.65,1267.79 343.62,1268.16 345.59,1268.49 347.57,1268.77 349.55,1269.01 351.54,1269.22 353.53,1269.4 355.53,1269.56 357.52,1269.71 359.52,1269.85 361.51,1269.98 363.51,1270.09 365.5,1270.2 367.5,1270.29 369.5,1270.37 371.5,1270.44 373.5,1270.5 375.5,1270.56 377.5,1270.6 379.5,1270.64 381.5,1270.66 383.5,1270.68 385.5,1270.69 387.5,1270.69 389.5,1270.7 391.5,1270.7 393.5,1270.7 395.5,1270.7 397.5,1270.7 399.5,1270.7 401.5,1270.7 403.5,1270.7 404.5,1270.7" stroke="#FF8000" stroke-width="6.5"/>
<path id="curve_Y" d="M725.4,1273.3 L727.4,1273.3 729.4,1273.23 731.37,1273.01 733.29,1272.6 735.11,1271.95 736.79,1271.01 738.31,1269.8 739.69,1268.39 740.98,1266.88 742.22,1265.31 743.43,1263.72 744.6,1262.1 745.7,1260.44 746.72,1258.72 747.65,1256.96 748.49,1255.15 749.22,1253.3 749.87,1251.41 750.44,1249.5 750.95,1247.57 751.43,1245.62 751.88,1243.68 752.32,1241.72 752.75,1239.77 753.17,1237.82 753.58,1235.86 753.97,1233.9 754.35,1231.93 754.7,1229.96 755.05,1227.99 755.37,1226.02 755.68,1224.04 755.97,1222.06 756.24,1220.08 756.5,1218.1 756.74,1216.11 756.98,1214.13 757.22,1212.14 757.46,1210.16 757.71,1208.17 757.95,1206.19 758.2,1204.2 758.44,1202.21 758.68,1200.23 758.91,1198.24 759.14,1196.25 759.36,1194.27 759.57,1192.28 759.78,1190.29 759.99,1188.3 760.18,1186.31 760.38,1184.32 760.58,1182.33 760.77,1180.34 760.96,1178.34 761.16,1176.35 761.35,1174.36 761.54,1172.37 761.73,1170.38 761.92,1168.39 762.11,1166.4 762.31,1164.41 762.51,1162.42 762.71,1160.43 762.92,1158.44 763.13,1156.45 763.34,1154.46 763.54,1152.47 763.74,1150.48 763.92,1148.49 764.09,1146.49 764.25,1144.5 764.4,1142.51 764.54,1140.51 764.68,1138.51 764.83,1136.52 764.97,1134.52 765.11,1132.53 765.25,1130.53 765.4,1128.54 765.54,1126.54 765.7,1124.55 765.87,1122.56 766.05,1120.56 766.25,1118.57 766.46,1116.59 766.67,1114.6 766.88,1112.61 767.08,1110.62 767.27,1108.63 767.45,1106.63 767.62,1104.64 767.77,1102.65 767.92,1100.65 768.06,1098.66 768.19,1096.66 768.31,1094.66 768.41,1092.67 768.51,1090.67 768.61,1088.67 768.7,1086.67 768.79,1084.67 768.88,1082.68 768.99,1080.68 769.1,1078.68 769.21,1076.68 769.33,1074.69 769.45,1072.69 769.57,1070.69 769.69,1068.7 769.81,1066.7 769.93,1064.7 770.04,1062.71 770.15,1060.71 770.27,1058.71 770.38,1056.71 770.49,1054.72 770.61,1052.72 770.74,1050.72 770.87,1048.73 771.01,1046.73 771.15,1044.74 771.31,1042.74 771.46,1040.75 771.62,1038.76 771.78,1036.76 771.93,1034.77 772.07,1032.77 772.21,1030.78 772.33,1028.78 772.44,1026.78 772.55,1024.78 772.65,1022.79 772.75,1020.79 772.85,1018.79 772.96,1016.79 773.07,1014.8 773.18,1012.8 773.31,1010.8 773.43,1008.81 773.56,1006.81 773.69,1004.81 773.82,1002.82 773.95,1000.82 774.08,998.83 774.2,996.83 774.32,994.83 774.44,992.84 774.55,990.84 774.66,988.84 774.77,986.84 774.89,984.85 775.02,982.85 775.16,980.86 775.31,978.86 775.47,976.87 775.65,974.88 775.83,972.88 776.01,970.89 776.19,968.9 776.35,966.91 776.5,964.91 776.65,962.92 776.78,960.92 776.9,958.92 777.03,956.93 777.14,954.93 777.26,952.93 777.37,950.94 777.48,948.94 777.59,946.94 777.69,944.94 777.79,942.95 777.89,940.95 777.98,938.95 778.08,936.95 778.18,934.95 778.29,932.96 778.41,930.96 778.54,928.96 778.67,926.97 778.82,924.97 778.96,922.98 779.11,920.98 779.26,918.99 779.41,916.99 779.56,915 779.71,913.01 779.86,911.01 780,909.02 780.15,907.02 780.3,905.03 780.44,903.03 780.59,901.04 780.74,899.04 780.88,897.05 781.04,895.05 781.19,893.06 781.34,891.06 781.49,889.07 781.65,887.07 781.8,885.08 781.96,883.08 782.12,881.09 782.29,879.1 782.46,877.1 782.63,875.11 782.81,873.12 782.99,871.13 783.17,869.14 783.35,867.14 783.54,865.15 783.72,863.16 783.89,861.17 784.06,859.17 784.23,857.18 784.39,855.19 784.55,853.19 784.7,851.2 784.87,849.2 785.03,847.21 785.21,845.22 785.4,843.23 785.6,841.24 785.81,839.25 786.02,837.26 786.25,835.27 786.5,833.29 786.76,831.3 787.02,829.32 787.29,827.34 787.56,825.36 787.85,823.38 788.18,821.41 788.64,819.47 789.3,817.59 790.2,815.81 791.34,814.19 792.9,813.27 794.26,814.52 795.12,816.31 795.69,818.22 796.02,820.19 796.23,822.18 796.4,824.17 796.56,826.16 796.76,828.15 796.98,830.14 797.22,832.13 797.46,834.11 797.71,836.1 797.96,838.08 798.22,840.06 798.47,842.05 798.73,844.03 798.99,846.01 799.26,848 799.53,849.98 799.79,851.96 800.06,853.94 800.31,855.93 800.54,857.91 800.77,859.9 800.97,861.89 801.15,863.88 801.32,865.88 801.48,867.87 801.64,869.87 801.8,871.86 801.96,873.85 802.14,875.84 802.34,877.84 802.55,879.82 802.77,881.81 803.01,883.8 803.25,885.78 803.49,887.77 803.74,889.75 803.97,891.74 804.2,893.73 804.41,895.72 804.6,897.71 804.79,899.7 804.97,901.69 805.14,903.69 805.3,905.68 805.46,907.67 805.62,909.67 805.78,911.66 805.93,913.66 806.08,915.65 806.23,917.64 806.37,919.64 806.51,921.64 806.65,923.63 806.8,925.63 806.94,927.62 807.1,929.61 807.26,931.61 807.43,933.6 807.61,935.59 807.8,937.59 807.99,939.58 808.17,941.57 808.35,943.56 808.53,945.55 808.7,947.55 808.85,949.54 809,951.54 809.13,953.53 809.26,955.53 809.38,957.52 809.5,959.52 809.62,961.52 809.73,963.51 809.84,965.51 809.95,967.51 810.05,969.51 810.14,971.51 810.24,973.5 810.34,975.5 810.44,977.5 810.56,979.5 810.69,981.49 810.84,983.49 811.01,985.48 811.19,987.47 811.38,989.46 811.58,991.45 811.77,993.44 811.95,995.44 812.12,997.43 812.28,999.42 812.43,1001.42 812.57,1003.41 812.71,1005.41 812.84,1007.4 812.98,1009.4 813.11,1011.39 813.25,1013.39 813.39,1015.39 813.54,1017.38 813.68,1019.38 813.83,1021.37 813.98,1023.37 814.13,1025.36 814.29,1027.35 814.46,1029.35 814.63,1031.34 814.81,1033.33 815,1035.32 815.2,1037.31 815.4,1039.3 815.6,1041.29 815.81,1043.28 816.01,1045.27 816.21,1047.26 816.41,1049.25 816.61,1051.24 816.81,1053.23 817.01,1055.23 817.21,1057.22 817.4,1059.21 817.6,1061.2 817.8,1063.19 818,1065.18 818.2,1067.17 818.4,1069.16 818.6,1071.15 818.8,1073.14 819,1075.13 819.2,1077.12 819.4,1079.11 819.59,1081.1 819.78,1083.09 819.96,1085.08 820.13,1087.08 820.3,1089.07 820.47,1091.06 820.65,1093.06 820.83,1095.05 821.01,1097.04 821.21,1099.03 821.41,1101.02 821.62,1103.01 821.83,1105 822.04,1106.99 822.24,1108.98 822.44,1110.97 822.64,1112.96 822.84,1114.95 823.04,1116.94 823.26,1118.93 823.49,1120.91 823.75,1122.9 824.02,1124.88 824.32,1126.86 824.62,1128.83 824.92,1130.81 825.21,1132.79 825.47,1134.77 825.71,1136.76 825.93,1138.75 826.12,1140.74 826.31,1142.73 826.49,1144.72 826.69,1146.71 826.9,1148.7 827.13,1150.69 827.37,1152.67 827.62,1154.66 827.88,1156.64 828.16,1158.62 828.44,1160.6 828.74,1162.58 829.04,1164.56 829.35,1166.53 829.68,1168.51 830.01,1170.48 830.36,1172.45 830.73,1174.41 831.12,1176.38 831.53,1178.33 831.97,1180.29 832.41,1182.24 832.87,1184.18 833.33,1186.13 833.78,1188.08 834.23,1190.03 834.67,1191.98 835.1,1193.93 835.53,1195.89 835.96,1197.84 836.41,1199.79 836.88,1201.73 837.37,1203.67 837.9,1205.6 838.45,1207.52 839.03,1209.43 839.64,1211.34 840.26,1213.24 840.89,1215.14 841.53,1217.03 842.17,1218.93 842.8,1220.83 843.42,1222.73 844.03,1224.64 844.63,1226.54 845.25,1228.44 845.93,1230.32 846.67,1232.17 847.49,1233.99 848.38,1235.78 849.34,1237.54 850.34,1239.26 851.39,1240.96 852.47,1242.65 853.57,1244.32 854.69,1245.97 855.86,1247.59 857.11,1249.14 858.46,1250.6 859.89,1251.98 861.38,1253.31 862.89,1254.62 864.41,1255.92 865.95,1257.18 867.55,1258.38 869.21,1259.48 870.93,1260.47 872.71,1261.37 874.53,1262.19 876.38,1262.94 878.26,1263.64 880.15,1264.29 882.05,1264.92 883.95,1265.52 885.87,1266.08 887.8,1266.61 889.74,1267.12 891.68,1267.6 893.62,1268.07 895.57,1268.52 897.52,1268.93 899.49,1269.29 901.46,1269.6 903.45,1269.87 905.43,1270.11 907.42,1270.34 909.41,1270.55 911.4,1270.76 913.39,1270.96 915.38,1271.15 917.37,1271.34 919.36,1271.52 921.35,1271.69 923.35,1271.86 925.34,1272.02 927.34,1272.17 929.33,1272.32 931.33,1272.46 933.32,1272.6 935.32,1272.72 937.31,1272.84 939.31,1272.95 941.31,1273.06 943.31,1273.15 945.31,1273.24 947.3,1273.32 949.3,1273.4 951.3,1273.48 953.3,1273.56 954.3,1273.6" stroke="#C0C000" stroke-width="6.5"/>
<path id="curve_P" d="M1323.2,1272 L1325.2,1271.98 1327.19,1271.82 1329.13,1271.43 1330.99,1270.83 1332.75,1269.99 1334.39,1268.91 1335.92,1267.67 1337.39,1266.32 1338.8,1264.9 1340.12,1263.42 1341.32,1261.84 1342.37,1260.16 1343.29,1258.4 1344.12,1256.58 1344.89,1254.73 1345.63,1252.88 1346.36,1251.01 1347.06,1249.14 1347.74,1247.25 1348.39,1245.36 1349.01,1243.46 1349.59,1241.55 1350.13,1239.62 1350.62,1237.68 1351.07,1235.73 1351.47,1233.77 1351.83,1231.8 1352.17,1229.83 1352.5,1227.85 1352.81,1225.88 1353.11,1223.9 1353.39,1221.92 1353.67,1219.93 1353.92,1217.95 1354.17,1215.96 1354.41,1213.97 1354.64,1211.99 1354.87,1210 1355.1,1208.01 1355.33,1206.02 1355.54,1204.03 1355.76,1202.04 1355.97,1200.05 1356.18,1198.06 1356.38,1196.07 1356.58,1194.08 1356.78,1192.08 1356.97,1190.09 1357.16,1188.1 1357.35,1186.11 1357.54,1184.11 1357.73,1182.12 1357.91,1180.13 1358.09,1178.13 1358.28,1176.14 1358.46,1174.15 1358.63,1172.15 1358.81,1170.16 1358.99,1168.16 1359.16,1166.17 1359.34,1164.18 1359.53,1162.18 1359.71,1160.19 1359.91,1158.2 1360.1,1156.21 1360.29,1154.21 1360.48,1152.22 1360.67,1150.23 1360.85,1148.23 1361.02,1146.24 1361.18,1144.24 1361.35,1142.25 1361.51,1140.25 1361.67,1138.26 1361.84,1136.27 1362.02,1134.27 1362.21,1132.28 1362.4,1130.29 1362.59,1128.29 1362.78,1126.3 1362.98,1124.31 1363.17,1122.32 1363.35,1120.32 1363.54,1118.33 1363.72,1116.34 1363.9,1114.34 1364.07,1112.35 1364.24,1110.35 1364.4,1108.36 1364.56,1106.36 1364.7,1104.37 1364.84,1102.37 1364.98,1100.37 1365.11,1098.37 1365.24,1096.38 1365.36,1094.38 1365.49,1092.38 1365.61,1090.38 1365.73,1088.39 1365.85,1086.39 1365.97,1084.39 1366.09,1082.39 1366.21,1080.39 1366.32,1078.39 1366.44,1076.4 1366.56,1074.4 1366.67,1072.4 1366.79,1070.4 1366.91,1068.4 1367.03,1066.4 1367.15,1064.41 1367.27,1062.41 1367.4,1060.41 1367.52,1058.41 1367.65,1056.42 1367.78,1054.42 1367.91,1052.42 1368.04,1050.42 1368.18,1048.43 1368.33,1046.43 1368.48,1044.43 1368.63,1042.44 1368.79,1040.44 1368.95,1038.45 1369.1,1036.45 1369.25,1034.45 1369.4,1032.46 1369.53,1030.46 1369.66,1028.46 1369.79,1026.47 1369.9,1024.47 1370.02,1022.47 1370.13,1020.47 1370.25,1018.47 1370.36,1016.47 1370.48,1014.48 1370.6,1012.48 1370.72,1010.48 1370.84,1008.48 1370.97,1006.48 1371.09,1004.49 1371.22,1002.49 1371.36,1000.49 1371.5,998.49 1371.65,996.5 1371.82,994.5 1371.99,992.51 1372.17,990.52 1372.35,988.52 1372.52,986.53 1372.69,984.53 1372.84,982.54 1372.98,980.54 1373.09,978.54 1373.2,976.54 1373.3,974.54 1373.4,972.55 1373.49,970.55 1373.6,968.55 1373.71,966.55 1373.83,964.55 1373.96,962.55 1374.09,960.56 1374.23,958.56 1374.37,956.56 1374.51,954.56 1374.64,952.57 1374.77,950.57 1374.9,948.57 1375.02,946.57 1375.13,944.58 1375.24,942.58 1375.35,940.58 1375.46,938.58 1375.57,936.58 1375.68,934.58 1375.81,932.58 1375.94,930.59 1376.08,928.59 1376.23,926.59 1376.39,924.6 1376.55,922.6 1376.72,920.61 1376.88,918.61 1377.04,916.62 1377.19,914.62 1377.33,912.63 1377.46,910.63 1377.58,908.63 1377.7,906.63 1377.81,904.63 1377.93,902.63 1378.05,900.64 1378.18,898.64 1378.33,896.64 1378.49,894.65 1378.66,892.65 1378.85,890.66 1379.04,888.67 1379.25,886.68 1379.46,884.69 1379.67,882.7 1379.88,880.71 1380.09,878.72 1380.3,876.72 1380.51,874.73 1380.73,872.74 1380.94,870.75 1381.15,868.76 1381.37,866.77 1381.58,864.78 1381.8,862.79 1382.01,860.8 1382.22,858.81 1382.44,856.82 1382.64,854.83 1382.85,852.84 1383.06,850.85 1383.28,848.86 1383.49,846.87 1383.7,844.88 1383.92,842.89 1384.13,840.9 1384.35,838.91 1384.56,836.92 1384.79,834.93 1385.03,832.94 1385.3,830.96 1385.58,828.98 1385.89,827 1386.21,825.02 1386.55,823.05 1386.94,821.09 1387.45,819.16 1388.15,817.29 1389.11,815.55 1390.36,814.02 1391.17,813.5 1392.08,813.56 1393.55,814.79 1394.62,816.45 1395.39,818.29 1395.88,820.22 1396.22,822.19 1396.49,824.17 1396.75,826.15 1397.04,828.13 1397.36,830.11 1397.69,832.08 1398.04,834.05 1398.38,836.02 1398.71,838 1399.02,839.98 1399.31,841.96 1399.56,843.94 1399.79,845.93 1399.98,847.92 1400.16,849.91 1400.33,851.91 1400.48,853.91 1400.65,855.9 1400.82,857.89 1401.01,859.89 1401.21,861.88 1401.42,863.87 1401.64,865.86 1401.86,867.85 1402.09,869.84 1402.32,871.83 1402.55,873.81 1402.78,875.8 1403.01,877.79 1403.24,879.78 1403.47,881.77 1403.7,883.76 1403.93,885.74 1404.16,887.73 1404.38,889.72 1404.6,891.71 1404.81,893.7 1405.01,895.69 1405.2,897.69 1405.38,899.68 1405.56,901.67 1405.73,903.67 1405.89,905.66 1406.05,907.66 1406.21,909.65 1406.37,911.65 1406.53,913.65 1406.69,915.64 1406.85,917.64 1407,919.63 1407.15,921.63 1407.31,923.62 1407.46,925.62 1407.62,927.62 1407.79,929.61 1407.96,931.6 1408.14,933.6 1408.33,935.59 1408.53,937.58 1408.72,939.57 1408.92,941.57 1409.11,943.56 1409.3,945.55 1409.49,947.54 1409.66,949.54 1409.83,951.53 1409.99,953.53 1410.15,955.52 1410.31,957.52 1410.46,959.52 1410.61,961.51 1410.77,963.51 1410.92,965.5 1411.08,967.5 1411.24,969.49 1411.41,971.49 1411.57,973.48 1411.74,975.48 1411.9,977.47 1412.08,979.47 1412.26,981.46 1412.45,983.45 1412.65,985.45 1412.85,987.44 1413.05,989.43 1413.26,991.42 1413.46,993.41 1413.64,995.4 1413.82,997.4 1413.98,999.39 1414.13,1001.39 1414.27,1003.39 1414.41,1005.38 1414.54,1007.38 1414.68,1009.38 1414.81,1011.37 1414.95,1013.37 1415.09,1015.37 1415.24,1017.36 1415.38,1019.36 1415.53,1021.36 1415.68,1023.35 1415.83,1025.35 1415.99,1027.35 1416.16,1029.34 1416.33,1031.33 1416.51,1033.33 1416.7,1035.32 1416.9,1037.31 1417.1,1039.3 1417.3,1041.3 1417.51,1043.29 1417.71,1045.28 1417.91,1047.27 1418.11,1049.26 1418.31,1051.25 1418.5,1053.25 1418.69,1055.24 1418.88,1057.23 1419.08,1059.22 1419.28,1061.21 1419.49,1063.2 1419.71,1065.19 1419.94,1067.18 1420.18,1069.17 1420.43,1071.16 1420.68,1073.14 1420.94,1075.13 1421.19,1077.11 1421.43,1079.1 1421.66,1081.09 1421.88,1083.08 1422.09,1085.07 1422.3,1087.06 1422.49,1089.05 1422.68,1091.05 1422.86,1093.04 1423.03,1095.03 1423.19,1097.03 1423.35,1099.02 1423.49,1101.02 1423.63,1103.02 1423.76,1105.01 1423.9,1107.01 1424.03,1109.01 1424.17,1111.01 1424.31,1113 1424.44,1115 1424.59,1117 1424.75,1118.99 1424.93,1120.99 1425.12,1122.98 1425.34,1124.97 1425.58,1126.95 1425.82,1128.94 1426.08,1130.93 1426.35,1132.91 1426.62,1134.89 1426.9,1136.88 1427.18,1138.86 1427.47,1140.84 1427.76,1142.82 1428.06,1144.8 1428.37,1146.77 1428.69,1148.75 1429.01,1150.73 1429.34,1152.7 1429.68,1154.67 1430.02,1156.65 1430.36,1158.62 1430.69,1160.59 1431.01,1162.57 1431.33,1164.55 1431.63,1166.52 1431.93,1168.5 1432.23,1170.48 1432.55,1172.46 1432.87,1174.43 1433.21,1176.41 1433.56,1178.38 1433.93,1180.34 1434.32,1182.31 1434.71,1184.27 1435.12,1186.23 1435.55,1188.19 1435.98,1190.14 1436.43,1192.09 1436.89,1194.04 1437.37,1195.98 1437.85,1197.93 1438.35,1199.86 1438.85,1201.8 1439.36,1203.74 1439.89,1205.67 1440.42,1207.6 1440.96,1209.53 1441.51,1211.45 1442.07,1213.37 1442.63,1215.29 1443.2,1217.21 1443.78,1219.13 1444.36,1221.04 1444.95,1222.96 1445.55,1224.87 1446.17,1226.77 1446.79,1228.67 1447.41,1230.58 1448.04,1232.48 1448.67,1234.37 1449.36,1236.25 1450.13,1238.09 1451,1239.88 1451.95,1241.64 1452.95,1243.37 1453.98,1245.08 1455.02,1246.79 1456.1,1248.48 1457.23,1250.13 1458.41,1251.74 1459.67,1253.29 1461,1254.77 1462.43,1256.15 1463.95,1257.43 1465.56,1258.61 1467.24,1259.69 1468.97,1260.69 1470.74,1261.61 1472.54,1262.47 1474.37,1263.27 1476.23,1264.02 1478.11,1264.71 1480,1265.34 1481.92,1265.92 1483.85,1266.45 1485.79,1266.93 1487.74,1267.37 1489.7,1267.78 1491.67,1268.15 1493.64,1268.5 1495.61,1268.83 1497.59,1269.13 1499.57,1269.42 1501.55,1269.69 1503.54,1269.94 1505.53,1270.16 1507.52,1270.36 1509.51,1270.53 1511.51,1270.69 1513.51,1270.83 1515.5,1270.95 1517.5,1271.07 1519.5,1271.18 1521.5,1271.29 1523.5,1271.4 1525.5,1271.49 1527.5,1271.58 1529.5,1271.67 1531.5,1271.74 1533.5,1271.81 1535.5,1271.88 1537.5,1271.95 1539.5,1272.02 1541.5,1272.09 1543.5,1272.16 1544.5,1272.2" stroke="#F61780" stroke-width="6.5"/>
<circle cx="293.7" cy="553" r="3.4" fill="#C146E9" stroke="none"/>
<circle cx="298" cy="562.3" r="3.4" fill="#035B03" stroke="none"/>
<circle cx="882.6" cy="524.3" r="3.1" fill="#000000" stroke="none"/>
</g>
<g fill="none" stroke-width="7" stroke-linecap="round">
<path d="M253.1,160.7 L320.3,160.7" stroke="#C146E9"/>
<path d="M253.5,331.9 L321.1,331.9" stroke="#035B03"/>
<path d="M850.1,95.4 L917.7,95.4" stroke="#000000"/>
<path d="M1461,101.5 L1527.7,101.5" stroke="#5858F8"/>
<path d="M240.4,810.4 L307.1,810.4" stroke="#FF8000"/>
<path d="M844.7,814.4 L911.3,814.4" stroke="#C0C000"/>
<path d="M1442.1,812.4 L1509.3,812.4" stroke="#F61780"/>
</g>
<g font-family="'Liberation Sans', Arial, Helvetica, sans-serif" fill="#000">
<text id="lab_a" transform="translate(-4,42)" font-size="57" font-weight="bold">a</text>
<text id="lab_b" transform="translate(607.5,41.7)" font-size="57" font-weight="bold">b</text>
<text id="lab_c" transform="translate(1217.35,51.2)" font-size="57" font-weight="bold">c</text>
<text id="lab_d" transform="translate(0.5,753)" font-size="57" font-weight="bold">d</text>
<text id="lab_e" transform="translate(615,763.2)" font-size="57" font-weight="bold">e</text>
<text id="lab_f" transform="translate(1217.75,771.9)" font-size="57" font-weight="bold">f</text>
<text id="tick_a_14" transform="translate(124.54,626.2)" font-size="36" font-weight="bold">14</text>
<text id="tick_a_16" transform="translate(261.82,626.2)" font-size="36" font-weight="bold">16</text>
<text id="tick_a_18" transform="translate(397.6,626.2)" font-size="36" font-weight="bold">18</text>
<text id="tick_a_20" transform="translate(534.88,626.2)" font-size="36" font-weight="bold">20</text>
<text id="axlab_a" transform="translate(150.75,691.3) scale(1.0210,1)" font-size="34.3" font-weight="bold">Elution time (min)</text>
<text id="tick_b_14" transform="translate(700.9,625.8)" font-size="36" font-weight="bold">14</text>
<text id="tick_b_16" transform="translate(847.34,625.8)" font-size="36" font-weight="bold">16</text>
<text id="tick_b_18" transform="translate(993.24,625.8)" font-size="36" font-weight="bold">18</text>
<text id="tick_b_20" transform="translate(1139.68,625.8)" font-size="36" font-weight="bold">20</text>
<text id="axlab_b" transform="translate(756.76,690) scale(1.0175,1)" font-size="34.3" font-weight="bold">Elution time (min)</text>
<text id="tick_c_12" transform="translate(1239.18,626.5)" font-size="36" font-weight="bold">12</text>
<text id="tick_c_14" transform="translate(1365.18,626.5)" font-size="36" font-weight="bold">14</text>
<text id="tick_c_16" transform="translate(1493.18,626.5)" font-size="36" font-weight="bold">16</text>
<text id="tick_c_18" transform="translate(1619.68,626.5)" font-size="36" font-weight="bold">18</text>
<text id="tick_c_20" transform="translate(1747.68,626.5)" font-size="36" font-weight="bold">20</text>
<text id="axlab_c" transform="translate(1366.77,691.1) scale(1.0117,1)" font-size="34.3" font-weight="bold">Elution time (min)</text>
<text id="tick_d_12" transform="translate(62.2,1333.1)" font-size="36" font-weight="bold">12</text>
<text id="tick_d_14" transform="translate(218.6,1333.1)" font-size="36" font-weight="bold">14</text>
<text id="tick_d_16" transform="translate(376.54,1333.1)" font-size="36" font-weight="bold">16</text>
<text id="tick_d_18" transform="translate(533.48,1333.1)" font-size="36" font-weight="bold">18</text>
<text id="axlab_d" transform="translate(150.14,1397.8) scale(1.0256,1)" font-size="34.3" font-weight="bold">Elution time (min)</text>
<text id="tick_e_12" transform="translate(700.82,1336.2)" font-size="36" font-weight="bold">12</text>
<text id="tick_e_14" transform="translate(846.26,1336.2)" font-size="36" font-weight="bold">14</text>
<text id="tick_e_16" transform="translate(993.24,1336.2)" font-size="36" font-weight="bold">16</text>
<text id="tick_e_18" transform="translate(1138.68,1336.2)" font-size="36" font-weight="bold">18</text>
<text id="axlab_e" transform="translate(755.96,1400.9) scale(1.0206,1)" font-size="34.3" font-weight="bold">Elution time (min)</text>
<text id="tick_f_12" transform="translate(1344.34,1334.1)" font-size="36" font-weight="bold">12</text>
<text id="tick_f_14" transform="translate(1480.12,1334.1)" font-size="36" font-weight="bold">14</text>
<text id="tick_f_16" transform="translate(1616.9,1334.1)" font-size="36" font-weight="bold">16</text>
<text id="tick_f_18" transform="translate(1753.68,1334.1)" font-size="36" font-weight="bold">18</text>
<text id="axlab_f" transform="translate(1370.16,1399) scale(1.0206,1)" font-size="34.3" font-weight="bold">Elution time (min)</text>
<text id="a_title" transform="translate(246.85,106.8) scale(0.9811,1)" font-size="36" font-weight="bold">DP200</text>
<text id="a_leg1" transform="translate(358.64,173.2) scale(0.9712,1)" font-size="36" font-weight="bold">50 µL</text>
<text id="a_t1" transform="translate(235.15,223.8) scale(1.0285,1)" font-size="34" font-weight="normal">99%, 20.5 kg mol</text>
<text id="a_s1" transform="translate(505.8,208.8)" font-size="27.2" font-weight="normal">-1</text>
<text id="a_d1" transform="translate(236.38,262) scale(1.0197,1)" font-size="34" font-weight="normal"><tspan font-style="italic">Đ</tspan> = 1.21</text>
<text id="a_leg2" transform="translate(368.83,343.8) scale(0.9818,1)" font-size="36" font-weight="bold">200 µL</text>
<text id="a_t2" transform="translate(252.33,395) scale(1.0361,1)" font-size="34" font-weight="normal">99%, 21.4kg mol</text>
<text id="a_s2" transform="translate(514.8,380)" font-size="27.2" font-weight="normal">-1</text>
<text id="a_d2" transform="translate(253.98,432.5) scale(1.0236,1)" font-size="34" font-weight="normal"><tspan font-style="italic">Đ</tspan> = 1.16</text>
<text id="b_title" transform="translate(956.06,108.3) scale(0.9721,1)" font-size="36" font-weight="bold">DP100</text>
<text id="b_t1" transform="translate(851.94,176.8) scale(1.0336,1)" font-size="34" font-weight="normal">99%, 11.4 kg mol</text>
<text id="b_s1" transform="translate(1120.2,161.8)" font-size="27.2" font-weight="normal">-1</text>
<text id="b_d1" transform="translate(853.57,216.4) scale(1.0267,1)" font-size="34" font-weight="normal"><tspan font-style="italic">Đ</tspan> = 1.13</text>
<text id="c_title" transform="translate(1566.06,113.3) scale(0.9721,1)" font-size="36" font-weight="bold">DP300</text>
<text id="c_t1" transform="translate(1460.35,178.3) scale(1.0255,1)" font-size="34" font-weight="normal">98%, 33.1 kg mol</text>
<text id="c_s1" transform="translate(1729.6,163.3)" font-size="27.2" font-weight="normal">-1</text>
<text id="c_d1" transform="translate(1461.98,217) scale(1.0157,1)" font-size="34" font-weight="normal"><tspan font-style="italic">Đ</tspan> = 1.14</text>
<text id="d_title" transform="translate(346.06,823.3) scale(0.9730,1)" font-size="36" font-weight="bold">DP500</text>
<text id="d_t1" transform="translate(241.94,901) scale(1.0343,1)" font-size="34" font-weight="normal">97%, 52.3 kg mol</text>
<text id="d_s1" transform="translate(513.6,886)" font-size="27.2" font-weight="normal">-1</text>
<text id="d_d1" transform="translate(243.57,939.5) scale(1.0315,1)" font-size="34" font-weight="normal"><tspan font-style="italic">Đ</tspan> = 1.21</text>
<text id="e_title" transform="translate(949.83,826) scale(0.9834,1)" font-size="36" font-weight="bold">DP1000</text>
<text id="e_t1" transform="translate(843.53,906.1) scale(1.0329,1)" font-size="34" font-weight="normal">95%, 94.5 kg mol</text>
<text id="e_s1" transform="translate(1115,891.1)" font-size="27.2" font-weight="normal">-1</text>
<text id="e_d1" transform="translate(845.17,944.8) scale(1.0252,1)" font-size="34" font-weight="normal"><tspan font-style="italic">Đ</tspan> = 1.18</text>
<text id="f_title" transform="translate(1547.63,824) scale(0.9843,1)" font-size="36" font-weight="bold">DP2000</text>
<text id="f_t1" transform="translate(1442.16,897.2) scale(1.0363,1)" font-size="34" font-weight="normal">97%, 199.7 kg mol</text>
<text id="f_s1" transform="translate(1734.4,882.2)" font-size="27.2" font-weight="normal">-1</text>
<text id="f_d1" transform="translate(1443.97,936.3) scale(1.0308,1)" font-size="34" font-weight="normal"><tspan font-style="italic">Đ</tspan> = 1.27</text>
</g>
</svg>
</body></html>
